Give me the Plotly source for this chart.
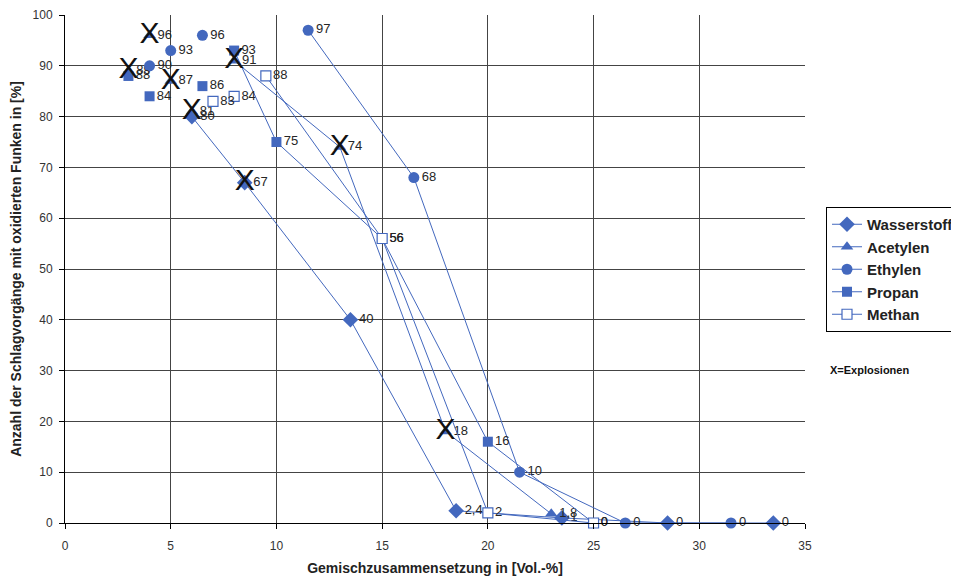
import plotly.graph_objects as go

# ---- data ----
wasser_x = [6, 8.5, 13.5, 18.5, 23.5, 28.5, 33.5]
wasser_y = [80, 67, 40, 2.4, 1, 0, 0]

acet_x = [8, 13, 18, 23]
acet_y = [91, 74, 18, 1.8]
acet_extra_x = [4, 3, 5, 6]
acet_extra_y = [96, 89, 87, 81]

ethyl_x = [11.5, 16.5, 21.5, 26.5, 31.5]
ethyl_y = [97, 68, 10, 0, 0]
ethyl_extra_x = [6.5, 5, 4]
ethyl_extra_y = [96, 93, 90]

propan_x = [8, 10, 15, 20, 25]
propan_y = [93, 75, 56, 16, 0]
propan_extra_x = [3, 4, 6.5]
propan_extra_y = [88, 84, 86]

methan_x = [9.5, 15, 20, 25]
methan_y = [88, 56, 2, 0]
methan_extra_x = [7, 8]
methan_extra_y = [83, 84]

explosion_x = [4, 3, 5, 6, 8, 13, 18, 8.5]
explosion_y = [96, 89, 87, 81, 91, 74, 18, 67]

BLUE = "#4368BE"
FONT = "Liberation Sans, Arial, sans-serif"


def lab(vals):
    out = []
    for v in vals:
        if float(v).is_integer():
            out.append(str(int(v)))
        else:
            out.append(str(v).replace(".", ","))
    return out


series = [
    ("Wasserstoff", wasser_x, wasser_y, [], [], dict(symbol="diamond", size=12, color=BLUE)),
    ("Acetylen", acet_x, acet_y, acet_extra_x, acet_extra_y, dict(symbol="triangle-up", size=11, color=BLUE)),
    ("Ethylen", ethyl_x, ethyl_y, ethyl_extra_x, ethyl_extra_y, dict(symbol="circle", size=11, color=BLUE)),
    ("Propan", propan_x, propan_y, propan_extra_x, propan_extra_y, dict(symbol="square", size=10, color=BLUE)),
    ("Methan", methan_x, methan_y, methan_extra_x, methan_extra_y,
     dict(symbol="square", size=10, color="white", line=dict(color=BLUE, width=1.2))),
]

fig = go.Figure()
textfont = dict(family=FONT, size=13, color="#262626")

for name, xs, ys, ex, ey, mk in series:
    fig.add_trace(go.Scatter(
        x=xs, y=ys, name=name, mode="lines+markers+text",
        line=dict(color=BLUE, width=1), marker=mk,
        text=lab(ys), textposition="middle right", textfont=textfont,
        cliponaxis=False,
    ))

for name, xs, ys, ex, ey, mk in series:
    if ex:
        fig.add_trace(go.Scatter(
            x=ex, y=ey, name=name, mode="markers+text", marker=mk,
            text=lab(ey), textposition="middle right", textfont=textfont,
            showlegend=False, cliponaxis=False,
        ))

fig.add_trace(go.Scatter(
    x=explosion_x, y=explosion_y, mode="text", text=["X"] * len(explosion_x),
    textposition="middle center",
    textfont=dict(family=FONT, size=30, color="#111111"),
    showlegend=False, cliponaxis=False, hoverinfo="skip",
))

axis_common = dict(
    showgrid=True, gridcolor="#444444", gridwidth=1,
    showline=True, linecolor="black", linewidth=1,
    ticks="outside", ticklen=5, tickcolor="black",
    tickfont=dict(family=FONT, size=12, color="#333333"),
    zeroline=False, automargin=False,
)

fig.update_layout(
    width=951, height=574,
    margin=dict(l=57, r=154, t=7, b=59, autoexpand=False),
    plot_bgcolor="white", paper_bgcolor="white",
    xaxis=dict(range=[0, 35], dtick=5, ticklabelstandoff=7, **axis_common,
               title=dict(text="Gemischzusammensetzung in [Vol.-%]", standoff=10,
                          font=dict(family=FONT, size=14, color="#222222", weight="bold"))),
    yaxis=dict(range=[0, 100], dtick=10, ticklabelstandoff=4, **axis_common,
               title=dict(text="Anzahl der Schlagvorgänge mit oxidierten Funken in [%]", standoff=7,
                          font=dict(family=FONT, size=14, color="#222222", weight="bold"))),
    legend=dict(x=(826 - 65) / 740, y=(523 - 207) / 508, xanchor="left", yanchor="top",
                bordercolor="black", borderwidth=1, bgcolor="white",
                font=dict(family=FONT, size=15, color="#222222", weight="bold"),
                traceorder="normal", tracegroupgap=0),
    showlegend=True,
    annotations=[dict(text="X=Explosionen", xref="paper", yref="paper",
                      x=(828 - 65) / 740, y=(523 - 370) / 508, xanchor="left", yanchor="middle",
                      showarrow=False,
                      font=dict(family=FONT, size=11, color="#111111", weight="bold"))],
)

fig.write_html("out.html")
